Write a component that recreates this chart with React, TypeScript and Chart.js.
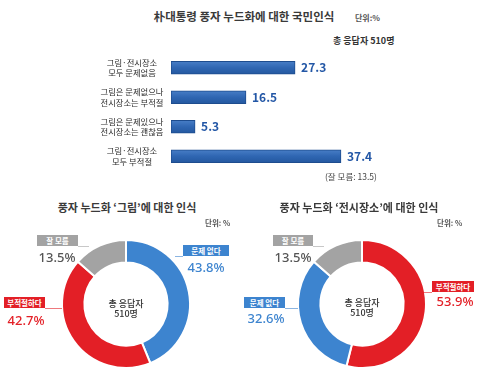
import React, { useEffect, useRef } from "react";
import { Chart, registerables } from "chart.js";

Chart.register(...registerables);

const FONT = '"Noto Sans CJK KR", "Noto Sans", sans-serif';

// Top bar chart data
const barCategories: string[][] = [
  ["그림·전시장소", "모두 문제없음"],
  ["그림은 문제없으나", "전시장소는 부적절"],
  ["그림은 문제있으나", "전시장소는 괜찮음"],
  ["그림·전시장소", "모두 부적절"],
];
const barValues: number[] = [27.3, 16.5, 5.3, 37.4];
const barValueLabels: string[] = ["27.3", "16.5", "5.3", "37.4"];

// Doughnut 1: 그림
const pic1Labels: string[] = ["문제 없다", "부적절하다", "잘 모름"];
const pic1Values: number[] = [43.8, 42.7, 13.5];
// Doughnut 2: 전시장소
const pic2Labels: string[] = ["부적절하다", "문제 없다", "잘 모름"];
const pic2Values: number[] = [53.9, 32.6, 13.5];

const BLUE = "#3d84cf";
const RED = "#e31f26";
const GRAY = "#a3a3a3";
const colorFor = (label: string) =>
  label === "문제 없다" ? BLUE : label === "부적절하다" ? RED : GRAY;

const barLabelPlugin = {
  id: "barLabels",
  afterDatasetsDraw(chart: any) {
    const { ctx } = chart;
    const yScale = chart.scales.y;
    const xScale = chart.scales.x;
    ctx.save();
    barCategories.forEach((lines, i) => {
      const y = yScale.getPixelForValue(i);
      ctx.font = `8.3px ${FONT}`;
      ctx.fillStyle = "#2a2a2a";
      ctx.textAlign = "center";
      ctx.textBaseline = "middle";
      ctx.fillText(lines[0], 132, y - 5);
      ctx.fillText(lines[1], 132, y + 5.5);
      const x = xScale.getPixelForValue(barValues[i]);
      ctx.font = `bold 12px ${FONT}`;
      ctx.fillStyle = "#2357a6";
      ctx.textAlign = "left";
      ctx.fillText(barValueLabels[i], x + 6, y);
    });
    ctx.restore();
  },
};

function BarChart() {
  const ref = useRef<HTMLCanvasElement>(null);
  useEffect(() => {
    const c = ref.current!;
    const chart = new Chart(c, {
      type: "bar",
      data: {
        labels: barCategories.map((l) => l.join(" ")),
        datasets: [
          {
            data: barValues,
            backgroundColor: (ctx: any) => {
              const ch = ctx.chart;
              if (!ch.chartArea || !ch.scales || !ch.scales.y) return "#2f66b2";
              const y = ch.scales.y.getPixelForValue(ctx.dataIndex);
              if (!isFinite(y)) return "#2f66b2";
              const gr = ch.ctx.createLinearGradient(0, y - 7, 0, y + 7);
              gr.addColorStop(0, "#4a80c8");
              gr.addColorStop(0.5, "#2f66b2");
              gr.addColorStop(1, "#23579e");
              return gr;
            },
            borderColor: "#1d4c8e",
            borderWidth: 1,
            borderSkipped: false,
            barThickness: 13,
          },
        ],
      },
      options: {
        indexAxis: "y",
        animation: false,
        responsive: false,
        layout: { padding: { left: 171, right: 112, top: 0, bottom: 0 } },
        plugins: { legend: { display: false }, tooltip: { enabled: false } },
        scales: {
          x: { display: false, min: 0, max: 44 },
          y: { display: false },
        },
      },
      plugins: [barLabelPlugin],
    } as any);
    return () => chart.destroy();
  }, []);
  return (
    <canvas
      ref={ref}
      width={483}
      height={118}
      style={{ position: "absolute", left: 0, top: 53, width: 483, height: 118 }}
    />
  );
}

function Donut(props: { labels: string[]; values: number[]; left: number; top: number }) {
  const ref = useRef<HTMLCanvasElement>(null);
  useEffect(() => {
    const chart = new Chart(ref.current!, {
      type: "doughnut",
      data: {
        labels: props.labels,
        datasets: [
          {
            data: props.values,
            backgroundColor: props.labels.map(colorFor),
            borderColor: "#ffffff",
            borderWidth: 2,
          },
        ],
      },
      options: {
        animation: false,
        responsive: false,
        cutout: "65%",
        layout: { padding: 5 },
        plugins: { legend: { display: false }, tooltip: { enabled: false } },
      },
    } as any);
    return () => chart.destroy();
  }, []);
  return (
    <canvas
      ref={ref}
      width={140}
      height={140}
      style={{ position: "absolute", left: props.left, top: props.top, width: 140, height: 140 }}
    />
  );
}

function Txt(p: {
  x: number;
  y: number;
  children: any;
  size: number;
  color?: string;
  bold?: boolean;
  weight?: number;
  align?: "center" | "left" | "right";
  family?: string;
  ls?: number;
}) {
  const tx = p.align === "left" ? "0" : p.align === "right" ? "-100%" : "-50%";
  return (
    <div
      style={{
        position: "absolute",
        left: p.x,
        top: p.y,
        transform: `translate(${tx}, -50%)`,
        fontSize: p.size,
        lineHeight: 1,
        whiteSpace: "nowrap",
        color: p.color || "#333",
        fontWeight: p.bold ? 700 : p.weight || 400,
        fontFamily: p.family || FONT,
        letterSpacing: p.ls || 0,
      }}
    >
      {p.children}
    </div>
  );
}

function Box(p: { x: number; y: number; w: number; h: number; color: string; text: string }) {
  return (
    <div
      style={{
        position: "absolute",
        left: p.x,
        top: p.y,
        width: p.w,
        height: p.h,
        background: p.color,
        color: "#fff",
        fontSize: 7.5,
        fontWeight: 700,
        fontFamily: FONT,
        lineHeight: `${p.h}px`,
        textAlign: "center",
        whiteSpace: "nowrap",
      }}
    >
      {p.text}
    </div>
  );
}

function Line(p: { x1: number; x2: number; y: number; color: string }) {
  return (
    <div
      style={{
        position: "absolute",
        left: Math.min(p.x1, p.x2),
        top: p.y,
        width: Math.abs(p.x2 - p.x1),
        height: 1,
        background: p.color,
        opacity: 0.6,
      }}
    />
  );
}

export default function App() {
  const PCT = '"Noto Sans", sans-serif';
  return (
    <div
      style={{
        position: "absolute",
        left: 0,
        top: 0,
        width: 483,
        height: 387,
        background: "#fff",
        overflow: "hidden",
        fontFamily: FONT,
      }}
    >
      <Txt x={244} y={17} size={11.5} bold color="#3a3a3a">朴대통령 풍자 누드화에 대한 국민인식</Txt>
      <Txt x={355} y={18} size={8} bold color="#555" align="left">단위:%</Txt>
      <Txt x={333} y={40} size={9} bold color="#333" align="left">총 응답자 510명</Txt>
      <BarChart />
      <Txt x={325} y={176} size={8.5} color="#444" align="left">(잘 모름: 13.5)</Txt>

      {/* Left doughnut */}
      <Txt x={127} y={207} size={11} bold color="#3a3a3a">풍자 누드화 ‘그림’에 대한 인식</Txt>
      <Txt x={205} y={223} size={7.5} bold color="#555" align="left">단위: %</Txt>
      <Donut labels={pic1Labels} values={pic1Values} left={56} top={234} />
      <Txt x={126} y={303} size={9} weight={500} color="#333">총 응답자</Txt>
      <Txt x={126} y={313} size={9} weight={500} color="#333">510명</Txt>
      <Line x1={78} x2={89} y={246} color={GRAY} />
      <Box x={37} y={235} w={41} h={11} color={GRAY} text="잘 모름" />
      <Txt x={57} y={257} size={13} weight={500} color="#555" family={PCT}>13.5%</Txt>
      <Line x1={175} x2={183} y={256} color={BLUE} />
      <Box x={183} y={245} w={46} h={11} color={BLUE} text="문제 없다" />
      <Txt x={206} y={267} size={13} weight={500} color={BLUE} family={PCT}>43.8%</Txt>
      <Line x1={45} x2={62} y={308} color={RED} />
      <Box x={4} y={297} w={41} h={11} color={RED} text="부적절하다" />
      <Txt x={26} y={320} size={13} weight={500} color={RED} family={PCT}>42.7%</Txt>

      {/* Right doughnut */}
      <Txt x={359} y={207} size={11} bold color="#3a3a3a">풍자 누드화 ‘전시장소’에 대한 인식</Txt>
      <Txt x={437} y={223} size={7.5} bold color="#555" align="left">단위: %</Txt>
      <Donut labels={pic2Labels} values={pic2Values} left={292} top={234} />
      <Txt x={362} y={302} size={9} weight={500} color="#333">총 응답자</Txt>
      <Txt x={362} y={312} size={9} weight={500} color="#333">510명</Txt>
      <Line x1={313} x2={324} y={246} color={GRAY} />
      <Box x={273} y={235} w={40} h={11} color={GRAY} text="잘 모름" />
      <Txt x={293} y={257} size={13} weight={500} color="#555" family={PCT}>13.5%</Txt>
      <Line x1={415} x2={432} y={292} color={RED} />
      <Box x={432} y={281} w={42} h={11} color={RED} text="부적절하다" />
      <Txt x={455} y={301} size={13} weight={500} color={RED} family={PCT}>53.9%</Txt>
      <Line x1={285} x2={298} y={308} color={BLUE} />
      <Box x={244} y={297} w={41} h={11} color={BLUE} text="문제 없다" />
      <Txt x={266} y={318} size={13} weight={500} color={BLUE} family={PCT}>32.6%</Txt>
    </div>
  );
}
